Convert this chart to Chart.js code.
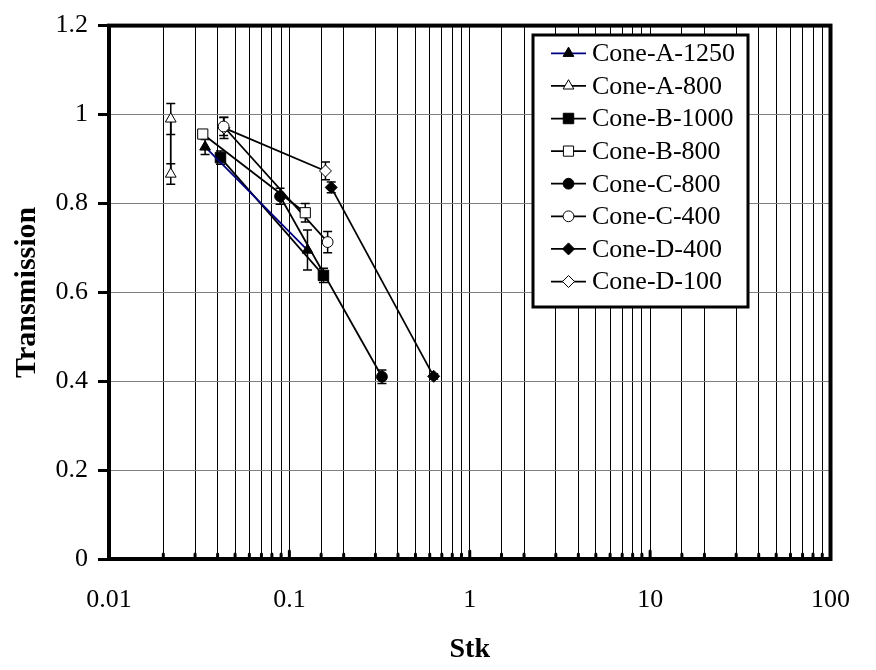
<!DOCTYPE html>
<html>
<head>
<meta charset="utf-8">
<title>Transmission vs Stk</title>
<script src="https://cdn.jsdelivr.net/npm/chart.js@4.4.1/dist/chart.umd.min.js"></script>
<style>
  html, body { margin: 0; padding: 0; background: #fff; }
  canvas { display: block; }
</style>
</head>
<body>
<canvas id="chart" width="876" height="670"></canvas>
<script>
// values
const seriesNames = ["Cone-A-1250", "Cone-A-800", "Cone-B-1000", "Cone-B-800",
  "Cone-C-800", "Cone-C-400", "Cone-D-400", "Cone-D-100"]

const stkA1250 = [0.0341, 0.126]
const trA1250 = [0.927, 0.695]
const errA1250 = [0.017, 0.045]

const stkA800 = [0.022, 0.022]
const trA800 = [0.990, 0.866]
const errA800 = [0.035, 0.023]

const stkB1000 = [0.0415, 0.1545]
const trB1000 = [0.903, 0.638]
const errB1000 = [0.015, 0.016]

const stkB800 = [0.0331, 0.1225]
const trB800 = [0.956, 0.779]
const errB800 = [0.005, 0.021]

const stkC800 = [0.0888, 0.326]
const trC800 = [0.816, 0.410]
const errC800 = [0.018, 0.015]

const stkC400 = [0.0432, 0.163]
const trC400 = [0.973, 0.713]
const errC400 = [0.020, 0.024]

const stkD400 = [0.1706, 0.631]
const trD400 = [0.836, 0.411]
const errD400 = [0.012, 0.006]

const stkD100 = [0.0434, 0.1585]
const trD100 = [0.970, 0.873]
const errD100 = [0.024, 0.020]

const xTickLabels = [0.01, 0.1, 1, 10, 100]

const FONT = "'Liberation Serif', 'Times New Roman', serif"

function pts(xs, ys) {
  return xs.map((x, i) => ({ x: x, y: ys[i] }))
}

function series(label, xs, ys, errs, line, style, radius, fill) {
  return {
    label: label,
    data: pts(xs, ys),
    errors: errs,
    showLine: true,
    borderColor: line,
    borderWidth: 1.75,
    pointStyle: style,
    pointRadius: radius,
    pointHoverRadius: radius,
    pointBackgroundColor: fill,
    pointBorderColor: "#000",
    pointBorderWidth: 1
  }
}

const datasets = [
  series(seriesNames[0], stkA1250, trA1250, errA1250, "#000080", "triangle", 6.2, "#000"),
  series(seriesNames[1], stkA800, trA800, errA800, "#000", "triangle", 6.2, "#fff"),
  series(seriesNames[2], stkB1000, trB1000, errB1000, "#000", "rect", 7.4, "#000"),
  series(seriesNames[3], stkB800, trB800, errB800, "#000", "rect", 7.2, "#fff"),
  series(seriesNames[4], stkC800, trC800, errC800, "#000", "circle", 5.4, "#000"),
  series(seriesNames[5], stkC400, trC400, errC400, "#000", "circle", 5.4, "#fff"),
  series(seriesNames[6], stkD400, trD400, errD400, "#000", "rectRot", 6, "#000"),
  series(seriesNames[7], stkD100, trD100, errD100, "#000", "rectRot", 6, "#fff")
]

const errorBars = {
  id: "errorBars",
  beforeDatasetsDraw(chart) {
    const ctx = chart.ctx
    const x = chart.scales.x
    const y = chart.scales.y
    ctx.save()
    ctx.strokeStyle = "#000"
    ctx.lineWidth = 1.5
    chart.data.datasets.forEach(ds => {
      ds.data.forEach((p, i) => {
        const e = ds.errors[i]
        if (!e) return
        const px = x.getPixelForValue(p.x)
        const top = y.getPixelForValue(p.y + e)
        const bot = y.getPixelForValue(p.y - e)
        ctx.beginPath()
        ctx.moveTo(px, top); ctx.lineTo(px, bot)
        ctx.moveTo(px - 4.5, top); ctx.lineTo(px + 4.5, top)
        ctx.moveTo(px - 4.5, bot); ctx.lineTo(px + 4.5, bot)
        ctx.stroke()
      })
    })
    ctx.restore()
  }
}

const frame = {
  id: "frame",
  afterDraw(chart) {
    const ctx = chart.ctx
    const a = chart.chartArea
    const x = chart.scales.x
    ctx.save()
    // inside tick marks on the Stk axis
    ctx.strokeStyle = "#000"
    ctx.lineWidth = 3
    ctx.lineCap = "round"
    x.ticks.forEach(t => {
      const px = x.getPixelForValue(t.value)
      const lg = Math.log10(t.value)
      const major = Math.abs(lg - Math.round(lg)) < 1e-6
      ctx.beginPath()
      ctx.moveTo(px, a.bottom)
      ctx.lineTo(px, a.bottom - (major ? 8 : 5))
      ctx.stroke()
    })
    ctx.lineCap = "butt"
    ctx.lineWidth = 4
    ctx.strokeRect(a.left, a.top, a.right - a.left, a.bottom - a.top)
    ctx.restore()
  }
}

const boxLegend = {
  id: "boxLegend",
  afterDraw(chart) {
    const ctx = chart.ctx
    const bx = 533, by = 35, bw = 215, bh = 272
    const row0 = 53.3, step = 32.6
    ctx.save()
    ctx.fillStyle = "#fff"
    ctx.fillRect(bx, by, bw, bh)
    ctx.strokeStyle = "#000"
    ctx.lineWidth = 3
    ctx.strokeRect(bx, by, bw, bh)
    ctx.font = "26px " + FONT
    ctx.textBaseline = "middle"
    ctx.textAlign = "left"
    chart.data.datasets.forEach((ds, i) => {
      const cy = row0 + i * step
      ctx.strokeStyle = ds.borderColor
      ctx.lineWidth = 1.75
      ctx.beginPath()
      ctx.moveTo(551, cy)
      ctx.lineTo(586, cy)
      ctx.stroke()
      ctx.fillStyle = ds.pointBackgroundColor
      ctx.strokeStyle = "#000"
      ctx.lineWidth = 1
      Chart.helpers.drawPoint(ctx, {
        pointStyle: ds.pointStyle,
        radius: ds.pointRadius,
        rotation: 0,
        borderWidth: 1
      }, 568.5, cy)
      ctx.fillStyle = "#000"
      ctx.fillText(ds.label, 592, cy + 1)
    })
    ctx.restore()
  }
}

new Chart(document.getElementById("chart"), {
  type: "scatter",
  data: { datasets: datasets },
  plugins: [errorBars, frame, boxLegend],
  options: {
    responsive: false,
    devicePixelRatio: 1,
    animation: false,
    layout: { padding: { top: 19, right: 27, left: 0, bottom: 0 } },
    plugins: {
      legend: { display: false },
      tooltip: { enabled: false }
    },
    scales: {
      x: {
        type: "logarithmic",
        min: 0.01,
        max: 100,
        afterFit(scale) { scale.height = 111 },
        grid: { color: "#000", lineWidth: 1, drawTicks: false },
        border: { display: false },
        ticks: {
          color: "#000",
          font: { family: FONT, size: 26 },
          padding: 26,
          autoSkip: false,
          maxRotation: 0,
          callback(v) {
            return xTickLabels.find(t => Math.abs(t - v) / t < 1e-6) !== undefined ? String(v) : ""
          }
        },
        title: {
          display: true,
          text: "Stk",
          color: "#000",
          font: { family: FONT, size: 28, weight: "bold" },
          padding: { top: 0, bottom: 3 }
        }
      },
      y: {
        min: 0,
        max: 1.2,
        afterFit(scale) { scale.width = 109 },
        grid: { color: "#808080", lineWidth: 1, tickLength: 11, tickWidth: 3, tickColor: "#000" },
        border: { display: false },
        ticks: {
          stepSize: 0.2,
          color: "#000",
          font: { family: FONT, size: 26 },
          padding: 10,
          callback(v) { return String(Number(v.toFixed(1))) }
        },
        title: {
          display: true,
          text: "Transmission",
          color: "#000",
          font: { family: FONT, size: 30, weight: "bold" },
          padding: { top: 9, bottom: 0 }
        }
      }
    }
  }
})
</script>
</body>
</html>
